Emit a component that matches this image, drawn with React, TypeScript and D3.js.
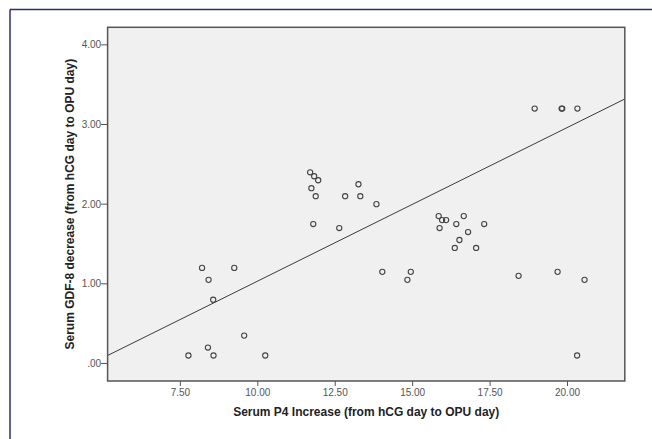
import * as d3 from 'd3'

// scatter points: [P4 increase, GDF-8 decrease]
const P4_INCREASE = [
  7.76, 8.2, 8.41, 8.56, 8.39, 8.57, 9.24, 9.56, 10.24,
  11.69, 11.82, 11.95, 11.73, 11.87, 11.79, 12.63, 12.82, 13.25, 13.31, 13.83,
  14.02, 14.94, 14.83,
  15.84, 15.95, 16.08, 15.87, 16.41, 16.65, 16.79, 17.31, 16.51, 16.36, 17.05,
  18.42, 19.68, 20.55,
  18.94, 19.81, 19.83, 20.32, 20.31,
]
const GDF8_DECREASE = [
  0.1, 1.2, 1.05, 0.8, 0.2, 0.1, 1.2, 0.35, 0.1,
  2.4, 2.35, 2.3, 2.2, 2.1, 1.75, 1.7, 2.1, 2.25, 2.1, 2.0,
  1.15, 1.15, 1.05,
  1.85, 1.8, 1.8, 1.7, 1.75, 1.85, 1.65, 1.75, 1.55, 1.45, 1.45,
  1.1, 1.15, 1.05,
  3.2, 3.2, 3.2, 3.2, 0.1,
]
// fit line end points as drawn in the reference
const FIT_X = [5.15, 21.85]
const FIT_Y = [0.1, 3.32]

const X_TICKS = [7.5, 10, 12.5, 15, 17.5, 20]
const Y_TICKS = [0, 1, 2, 3, 4]

const W = 652
const H = 439
const PLOT = { left: 107.6, right: 624.8, top: 27.3, bottom: 381 }
const FONT = "'Liberation Sans', Arial, sans-serif"
const TICK_COLOR = '#555'
const TITLE_COLOR = '#222'
const FRAME = '#2b2e6e'

const fmt = (v: number) => (v === 0 ? '.00' : d3.format('.2f')(v))

export default function App() {
  const x = d3.scaleLinear().domain([5.15, 21.85]).range([PLOT.left, PLOT.right])
  const y = d3.scaleLinear().domain([-0.22, 4.22]).range([PLOT.bottom, PLOT.top])

  const points = P4_INCREASE.map((v, i) => ({ x: v, y: GDF8_DECREASE[i] }))
  const fit = FIT_X.map((v, i) => [v, FIT_Y[i]] as [number, number])
  const line = d3.line<[number, number]>().x((d) => x(d[0])).y((d) => y(d[1]))

  return (
    <svg
      width={W}
      height={H}
      style={{ position: 'absolute', left: 0, top: 0, background: '#fff' }}
      fontFamily={FONT}
    >
      {/* outer frame: only the left and top edges show */}
      <line x1={10} x2={W} y1={9.5} y2={9.5} stroke={FRAME} strokeWidth={1.5} />
      <line x1={10} x2={10} y1={9.5} y2={H} stroke={FRAME} strokeWidth={1.5} />

      <defs>
        <clipPath id="plot-clip">
          <rect x={PLOT.left} y={PLOT.top} width={PLOT.right - PLOT.left} height={PLOT.bottom - PLOT.top} />
        </clipPath>
      </defs>

      <rect
        x={PLOT.left}
        y={PLOT.top}
        width={PLOT.right - PLOT.left}
        height={PLOT.bottom - PLOT.top}
        fill="#f0f0f0"
      />

      <g clipPath="url(#plot-clip)">
        <path d={line(fit) ?? ''} fill="none" stroke="#3a3a3a" strokeWidth={1} />
        {points.map((p, i) => (
          <circle key={i} cx={x(p.x)} cy={y(p.y)} r={2.6} fill="none" stroke="#444" strokeWidth={1.1} />
        ))}
      </g>

      <rect
        x={PLOT.left}
        y={PLOT.top}
        width={PLOT.right - PLOT.left}
        height={PLOT.bottom - PLOT.top}
        fill="none"
        stroke="#555"
        strokeWidth={1.5}
      />

      {/* y axis */}
      {Y_TICKS.map((t) => (
        <g key={t} transform={`translate(0,${y(t)})`}>
          <line x1={PLOT.left - 6.5} x2={PLOT.left} stroke="#555" strokeWidth={1} />
          <text x={PLOT.left - 6.5} dy="0.35em" textAnchor="end" fontSize={10} fill={TICK_COLOR}>
            {fmt(t)}
          </text>
        </g>
      ))}

      {/* x axis */}
      {X_TICKS.map((t) => (
        <g key={t} transform={`translate(${x(t)},0)`}>
          <line y1={PLOT.bottom} y2={PLOT.bottom + 5} stroke="#555" strokeWidth={1} />
          <text y={PLOT.bottom + 15} textAnchor="middle" fontSize={10} fill={TICK_COLOR}>
            {fmt(t)}
          </text>
        </g>
      ))}

      <text
        x={(PLOT.left + PLOT.right) / 2}
        y={416}
        textAnchor="middle"
        fontSize={12}
        fontWeight="bold"
        fill={TITLE_COLOR}
      >
        Serum P4 Increase (from hCG day to OPU day)
      </text>
      <text
        transform={`translate(73.5,${(PLOT.top + PLOT.bottom) / 2}) rotate(-90)`}
        textAnchor="middle"
        fontSize={12}
        fontWeight="bold"
        fill={TITLE_COLOR}
      >
        Serum GDF-8 decrease (from hCG day to OPU day)
      </text>
    </svg>
  )
}
